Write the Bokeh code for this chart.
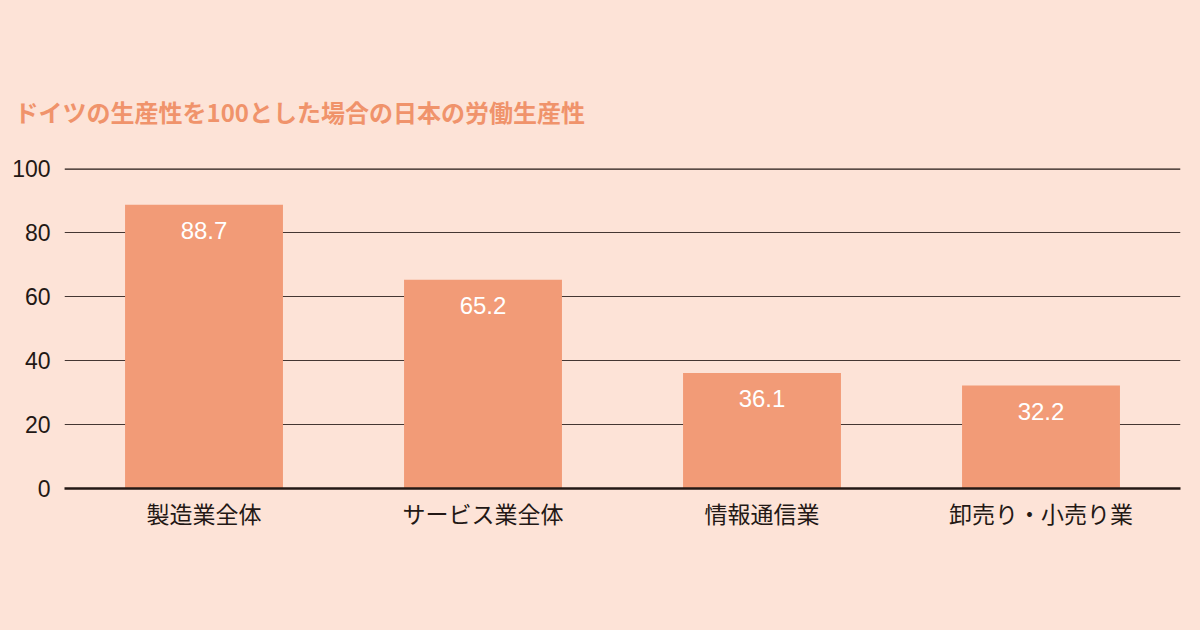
from bokeh.plotting import figure
from bokeh.models import ColumnDataSource, LabelSet, Span, FixedTicker, Range1d
from bokeh.core.properties import value
from bokeh.embed import file_html
from bokeh.resources import INLINE

categories = ["製造業全体", "サービス業全体", "情報通信業", "卸売り・小売り業"]
values = [88.7, 65.2, 36.1, 32.2]
labels = ["88.7", "65.2", "36.1", "32.2"]
y_ticks = [0, 20, 40, 60, 80, 100]
title_text = "ドイツの生産性を100とした場合の日本の労働生産性"

BG = "#FDE3D7"
BAR = "#F29B77"
TITLE_C = "#F0936B"
INK = "#231815"
JP = "Noto Sans CJK JP"
NUM = "Liberation Sans"

source = ColumnDataSource(dict(cat=categories, val=values, lab=labels))

p = figure(x_range=categories, y_range=Range1d(0, 100), width=1192, height=622,
           output_backend="svg", toolbar_location=None,
           min_border_left=64, min_border_right=12, min_border_top=168, min_border_bottom=134)
p.background_fill_color = BG
p.border_fill_color = BG
p.outline_line_color = None

p.title.text = title_text
p.title.text_color = TITLE_C
p.title.text_font = JP
p.title.text_font_size = "24px"
p.title.text_font_style = "bold"
p.title.align = "left"
p.title.offset = -50
p.title.standoff = 80

p.xgrid.grid_line_color = None
p.ygrid.grid_line_color = INK
p.ygrid.grid_line_width = 1
p.ygrid.grid_line_alpha = 0.85
p.yaxis.ticker = FixedTicker(ticks=y_ticks)
p.ygrid.ticker = FixedTicker(ticks=[20, 40, 60, 80])

p.vbar(x="cat", top="val", width=0.566, source=source, fill_color=BAR, line_color=None)

p.add_layout(Span(location=100, dimension="width", line_color=INK, line_width=2.5))

p.yaxis.axis_line_color = None
p.yaxis.major_tick_line_color = None
p.yaxis.minor_tick_line_color = None
p.yaxis.major_label_standoff = 8
p.yaxis.major_label_text_font = NUM
p.yaxis.major_label_text_font_size = "23px"
p.yaxis.major_label_text_color = INK

p.xaxis.axis_line_color = INK
p.xaxis.axis_line_width = 2.5
p.xaxis.major_tick_line_color = None
p.xaxis.minor_tick_line_color = None
p.xaxis.major_label_standoff = 1
p.xaxis.major_label_text_font = JP
p.xaxis.major_label_text_font_size = "23px"
p.xaxis.major_label_text_color = INK

p.add_layout(LabelSet(x="cat", y="val", text="lab", source=source, y_offset=-26,
                      text_align="center", text_baseline="middle", text_color="white",
                      text_font=value(NUM), text_font_size=value("24px")))

html = file_html(p, INLINE)
html = html.replace("<head>", "<head><style>body{background:%s;}</style>" % BG, 1)
open("out.html", "w").write(html)
